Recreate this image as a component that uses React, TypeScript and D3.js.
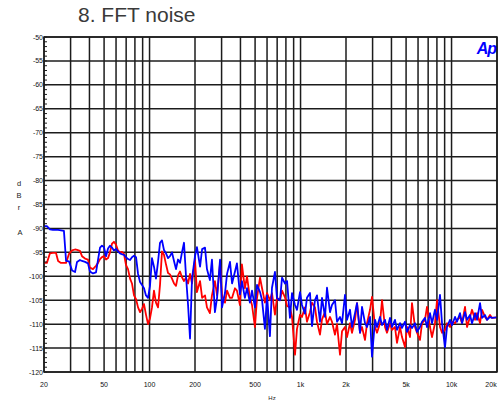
import React from 'react';
import * as d3 from 'd3';

const width = 499;
const height = 402;
const left = 44;
const right = 497;
const top = 37;
const bottom = 372;

const yTickValues = [-50, -55, -60, -65, -70, -75, -80, -85, -90, -95, -100, -105, -110, -115, -120];
const xTickValues = [20, 50, 100, 200, 500, 1000, 2000, 5000, 10000, 20000];
const xTickLabels = ['20', '50', '100', '200', '500', '1k', '2k', '5k', '10k', '20k'];

// shared FFT frequency points (Hz)
const freqHz = [
  20.0, 20.9, 21.9, 22.9, 24.0, 24.8, 25.9, 27.1, 28.0, 29.3, 30.7, 32.1, 33.1, 34.6, 35.7, 37.4, 39.1, 40.3,
  42.2, 44.2, 45.6, 47.0, 48.4, 49.9, 51.5, 53.1, 54.7, 56.4, 58.1, 60.0, 61.8, 63.7, 65.7, 67.7, 69.8, 72.0,
  74.3, 76.5, 78.9, 81.4, 83.9, 86.5, 89.1, 91.9, 94.7, 97.7, 100.7, 103.8, 107.0, 110.3, 113.8, 117.3, 120.9,
  124.6, 128.5, 132.6, 136.6, 140.8, 145.2, 149.7, 154.4, 159.2, 164.0, 169.1, 174.4, 179.9, 185.4, 191.1,
  200, 206, 216, 223, 233, 240, 251, 259, 271, 280, 293, 302, 316, 326, 341, 352, 368, 379, 397, 409, 428,
  442, 462, 477, 499, 515, 539, 556, 581, 600, 627, 647, 677, 698, 731, 754, 789, 814, 851, 878, 919, 947,
  992, 1022, 1070, 1103, 1155, 1191, 1246, 1285, 1345, 1387, 1452, 1497, 1567, 1615, 1691, 1744, 1825, 1882,
  1970, 2031, 2126, 2192, 2295, 2366, 2476, 2553, 2673, 2756, 2885, 2974, 3113, 3209, 3359, 3463, 3625, 3737,
  3912, 4033, 4222, 4353, 4557, 4698, 4918, 5070, 5307, 5471, 5727, 5905, 6181, 6373, 6671, 6878, 7200, 7424,
  7771, 8012, 8387, 8647, 9052, 9333, 9770, 10072, 10544, 10870, 11380, 11732, 12281, 12662, 13255, 13665,
  14306, 14749, 15441, 15919, 16664, 17180, 17986, 18543, 20000,
];

// channel A (red), dBr A
const redDb = [
  -97.2, -97.2, -95.2, -95.1, -95.1, -96.8, -97.2, -97.2, -97.2, -95.3, -94.6, -94.4, -94.5, -94.7, -95.8, -96.3, -96.5, -98.2,
  -98.5, -97.8, -97.2, -96.4, -96.0, -95.8, -96.5, -96.2, -95.0, -93.2, -92.8, -93.4, -94.6, -95.0, -94.9, -95.3, -97.6, -98.5,
  -100.5, -101.5, -104.0, -104.8, -106.5, -107.5, -106.8, -105.8, -108.0, -110.0, -108.8, -106.5, -103.0, -105.5, -106.5, -101.8, -94.8,
  -95.5, -97.5, -99.3, -99.6, -100.5, -101.5, -102.0, -99.8, -99.0, -100.2, -101.0, -100.3, -101.5, -99.5, -101.5,
  -96.5, -103.3, -101.0, -104.5, -104.0, -106.5, -107.7, -104.0, -101.0, -104.0, -97.3, -104.0, -105.5, -103.0, -104.5, -104.5, -102.5, -103.0, -106.0, -97.5, -102.5,
  -100.0, -104.5, -106.0, -110.6, -104.5, -100.3, -102.5, -105.5, -103.5, -105.0, -103.5, -108.0, -104.5, -105.0, -103.0, -104.4, -106.2, -106.5, -108.5, -116.4, -111.0,
  -108.0, -108.5, -106.5, -109.5, -107.5, -105.5, -106.5, -109.5, -112.2, -109.0, -107.5, -110.0, -108.5, -109.5, -112.2, -110.0, -116.4, -111.5,
  -110.6, -112.7, -109.8, -111.8, -109.1, -105.6, -111.8, -110.6, -113.3, -109.8, -107.0, -104.3, -110.6, -111.8, -109.8, -105.0, -110.6, -111.8,
  -109.8, -111.2, -110.6, -113.9, -110.6, -112.7, -114.8, -110.6, -112.7, -105.6, -110.6, -111.8, -113.3, -109.8, -109.1, -106.4, -110.6, -112.7,
  -109.8, -105.0, -110.6, -111.8, -111.2, -109.8, -110.6, -109.5, -109.8, -109.1, -108.5, -109.8, -106.4, -110.6, -108.5, -107.0,
  -109.1, -107.7, -109.8, -107.0, -108.5, -109.1, -108.1, -108.7, -108.6,
];

// channel B (blue), dBr A
const blueDb = [
  -89.5, -89.5, -90.2, -90.3, -90.3, -90.3, -90.4, -90.5, -96.8, -96.9, -98.8, -99.1, -97.0, -96.6, -96.8, -97.0, -97.3, -99.0,
  -99.4, -99.2, -96.5, -94.0, -93.6, -93.9, -95.8, -94.2, -93.6, -94.0, -94.6, -94.3, -94.8, -95.2, -95.4, -95.5, -96.0, -96.4,
  -96.6, -96.0, -95.7, -96.0, -99.5, -101.2, -101.8, -102.5, -104.0, -104.5, -102.0, -96.2, -98.0, -100.5, -97.0, -93.0, -92.5,
  -94.5, -95.2, -96.2, -95.8, -95.0, -96.8, -98.5, -96.5, -97.2, -95.0, -93.0, -100.0, -106.0, -113.0, -100.5,
  -95.8, -93.9, -98.0, -94.3, -94.0, -98.5, -100.8, -96.5, -107.5, -104.5, -96.5, -106.5, -103.5, -99.5, -97.0, -101.5, -99.0, -97.3, -103.8, -101.0, -104.5,
  -102.5, -105.5, -103.0, -106.5, -101.8, -103.3, -105.0, -111.0, -104.0, -112.5, -102.4, -99.1, -104.6, -105.0, -100.3, -101.5, -101.0, -108.7, -103.5, -106.0, -107.0,
  -103.3, -106.0, -107.8, -104.5, -103.5, -110.4, -105.0, -104.0, -109.5, -104.5, -108.5, -102.4, -107.5, -106.0, -105.0, -109.5, -108.5, -109.8,
  -103.9, -109.1, -107.0, -110.6, -107.7, -105.6, -111.8, -106.4, -109.8, -110.6, -108.5, -116.8, -109.1, -110.6, -108.5, -110.2, -109.1, -111.2,
  -108.7, -110.6, -109.1, -111.2, -109.8, -110.8, -109.5, -111.6, -110.2, -110.8, -109.8, -111.6, -110.6, -109.5, -108.7, -110.6, -107.7, -109.8,
  -107.0, -109.1, -103.9, -109.8, -114.8, -110.6, -109.1, -110.2, -108.5, -109.5, -107.7, -109.8, -107.5, -109.1, -108.1, -109.8,
  -107.7, -109.1, -105.6, -108.7, -108.1, -109.1, -108.5, -108.7, -108.6,
];

const x = d3.scaleLog().domain([20, 20000]).range([left, right]);
const y = d3.scaleLinear().domain([-50, -120]).range([top, bottom]);

const line = (values: number[]) =>
  d3
    .line<number>()
    .x((_, i) => x(freqHz[i]))
    .y(d => y(d))(values) || '';

const App: React.FC = () => {
  const gridColor = '#1c1c1c';
  const font = 'Liberation Sans, Arial, sans-serif';
  const minorTicks = d3.range(-120, -49, 1);

  return (
    <svg
      width={width}
      height={height}
      style={{ position: 'absolute', left: 0, top: 0, background: '#fff' }}
    >
      <text x={78} y={22} fontFamily={font} fontSize={21} fill="#3a3a3a">
        8. FFT noise
      </text>

      <defs>
        <clipPath id="plot">
          <rect x={left} y={top} width={right - left} height={bottom - top} />
        </clipPath>
      </defs>

      {/* vertical grid */}
      {x.ticks().map(t => (
        <line key={'vx' + t} x1={x(t)} x2={x(t)} y1={top} y2={bottom} stroke={gridColor} strokeWidth={1.5} />
      ))}
      {/* horizontal grid */}
      {yTickValues.map(t => (
        <line key={'hy' + t} x1={left} x2={right} y1={y(t)} y2={y(t)} stroke={gridColor} strokeWidth={1.5} />
      ))}

      <g clipPath="url(#plot)">
        <path d={line(redDb)} fill="none" stroke="#ff0000" strokeWidth={1.8} strokeLinejoin="round" />
        <path d={line(blueDb)} fill="none" stroke="#0000ff" strokeWidth={1.8} strokeLinejoin="round" />
      </g>

      {/* frame */}
      <rect x={left} y={top} width={right - left} height={bottom - top} fill="none" stroke={gridColor} strokeWidth={1.5} />

      {/* minor ticks */}
      {minorTicks.map(t => (
        <line key={'mt' + t} x1={left} x2={left + 3} y1={y(t)} y2={y(t)} stroke={gridColor} strokeWidth={1} />
      ))}

      {yTickValues.map(t => (
        <text
          key={'yl' + t}
          x={left - 1}
          y={y(t) + 2.5}
          textAnchor="end"
          fontFamily={font}
          fontSize={7}
          fill="#111"
        >
          {t}
        </text>
      ))}

      {xTickValues.map((t, i) => (
        <text
          key={'xl' + t}
          x={i === xTickValues.length - 1 ? x(t) - 6 : x(t)}
          y={387}
          textAnchor="middle"
          fontFamily={font}
          fontSize={7}
          fill="#111"
        >
          {xTickLabels[i]}
        </text>
      ))}

      <text x={272} y={400} textAnchor="middle" fontFamily={font} fontSize={6} fill="#222">
        Hz
      </text>

      {['d', 'B', 'r'].map((c, i) => (
        <text key={c} x={19} y={186 + i * 12} textAnchor="middle" fontFamily={font} fontSize={7.5} fill="#222">
          {c}
        </text>
      ))}
      <text x={20} y={235} textAnchor="middle" fontFamily={font} fontSize={7.5} fill="#222">
        A
      </text>

      <text
        x={496}
        y={54}
        textAnchor="end"
        fontFamily={font}
        fontSize={16}
        fontWeight="bold"
        fontStyle="italic"
        fill="#0000ff"
        letterSpacing={-1}
      >
        Ap
      </text>
    </svg>
  );
};

export default App;
